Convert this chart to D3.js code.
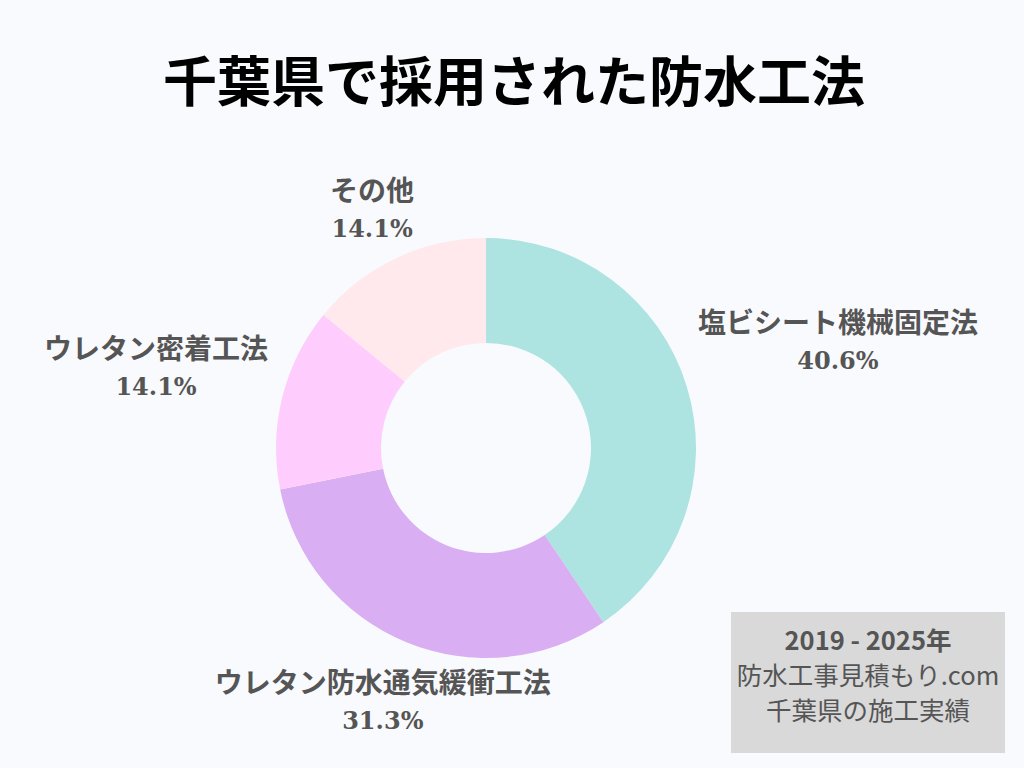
<!DOCTYPE html>
<html><head><meta charset="utf-8">
<script src="https://cdn.jsdelivr.net/npm/d3@7"></script>
<style>body{margin:0;background:#f8fafd}</style></head>
<body><svg id="c" width="1024" height="768"></svg>
<script>
const categories=["塩ビシート機械固定法","ウレタン防水通気緩衝工法","ウレタン密着工法","その他"];
const values=[40.6,31.3,14.1,14.1];
const colors=["#ade3e0","#d9aef2","#ffcdfd","#ffe9ec"];
const labelR=[368,272,340,266];
const svg=d3.select("#c");
svg.append("rect").attr("width",1024).attr("height",768).attr("fill","#f8fafd");
const font="'Noto Sans CJK JP','Noto Sans',sans-serif";
svg.append("text").attr("x",514).attr("y",102).attr("text-anchor","middle")
 .attr("font-family",font).attr("font-weight",700).attr("font-size",54).attr("fill","#000").text("千葉県で採用された防水工法");
const cx=486,cy=448,R=210;
const pie=d3.pie().sort(null)(values);
const arc=d3.arc().innerRadius(R/2).outerRadius(R);
const g=svg.append("g").attr("transform",`translate(${cx},${cy})`);
g.selectAll("path").data(pie).join("path").attr("d",arc).attr("fill",(d,i)=>colors[i]);
pie.forEach((d,i)=>{
 const a=(d.startAngle+d.endAngle)/2;
 const x=Math.sin(a)*labelR[i], y=-Math.cos(a)*labelR[i];
 const t=g.append("text").attr("text-anchor","middle").attr("fill","#555").attr("font-weight",700).attr("font-size",28);
 t.append("tspan").attr("x",x).attr("y",y-7).attr("font-family",font).text(categories[i]);
 t.append("tspan").attr("x",x).attr("y",y+29).attr("font-family","'DejaVu Serif',serif").attr("font-size",24).text(values[i].toFixed(1)+"%");
});
svg.append("rect").attr("x",731).attr("y",612).attr("width",274).attr("height",141).attr("fill","#d9d9d9");
const bl=[["2019 - 2025年",700],["防水工事見積もり.com",400],["千葉県の施工実績",400]];
bl.forEach((b,i)=>svg.append("text").attr("x",868).attr("y",650+i*35).attr("text-anchor","middle")
 .attr("font-family",font).attr("font-weight",b[1]).attr("font-size",25.5).attr("fill","#555").text(b[0]));
</script></body></html>
